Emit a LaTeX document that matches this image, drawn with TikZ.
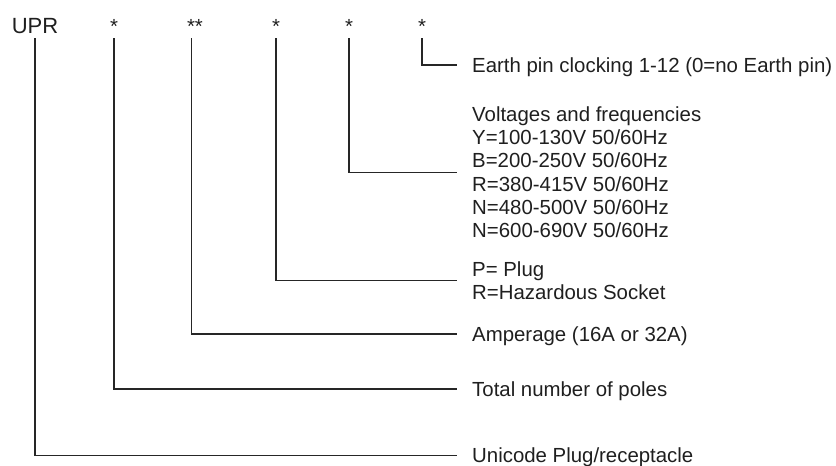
\documentclass[tikz,border=0pt]{standalone}
\usepackage{fontspec}
\setmainfont{Liberation Sans}
\begin{document}
\begin{tikzpicture}[x=1pt,y=-1pt,
  txt/.style={inner sep=0pt, text=black!88, font=\fontsize{20.4}{23.3}\selectfont},
  top/.style={txt, anchor=base},
  lbl/.style={txt, anchor=west, inner xsep=15pt, inner ysep=0pt, text height=14.6pt, text depth=0pt},
  mlbl/.style={txt, anchor=west, inner xsep=15pt, inner ysep=0pt, align=left},
  conn/.style={draw=black!85, line width=1.3pt}]
\useasboundingbox (0,0) rectangle (836,466);
% top row
\node[top, font=\fontsize{22}{26}\selectfont] (upr) at (35,33) {UPR};
\node[top] (s1) at (114,33) {*};
\node[top] (s2) at (195,33) {**};
\node[top] (s3) at (276,33) {*};
\node[top] (s4) at (349,33) {*};
\node[top] (s5) at (422,33) {*};
% labels
\node[lbl]  (t5) at (457,65) {Earth pin clocking 1-12 (0=no Earth pin)};
\node[mlbl] (t4) at (457,172.3) {Voltages and frequencies\\Y=100-130V 50/60Hz\\B=200-250V 50/60Hz\\R=380-415V 50/60Hz\\N=480-500V 50/60Hz\\N=600-690V 50/60Hz};
\node[mlbl] (t3) at (457,280.5) {P= Plug\\R=Hazardous Socket};
\node[lbl]  (t2) at (457,334) {Amperage (16A or 32A)};
\node[lbl]  (t1) at (457,389) {Total number of poles};
\node[lbl]  (t0) at (457,455.5) {Unicode Plug/receptacle};
% connectors
\draw[conn] ([yshift=-5pt]upr.south) |- (t0.west);
\draw[conn] ([yshift=-5pt]s1.south) |- (t1.west);
\draw[conn] ([xshift=-3.5pt,yshift=-5pt]s2.south) |- (t2.west);
\draw[conn] ([yshift=-5pt]s3.south) |- (t3.west);
\draw[conn] ([yshift=-5pt]s4.south) |- (t4.west);
\draw[conn] ([yshift=-5pt]s5.south) |- (t5.west);
\end{tikzpicture}
\end{document}
